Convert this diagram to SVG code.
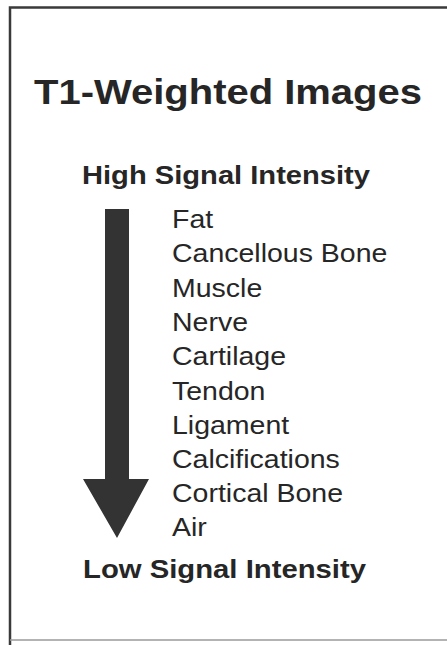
<svg xmlns="http://www.w3.org/2000/svg" width="447" height="645" viewBox="0 0 447 645">
<style>
.t{font-family:"Liberation Sans",Arial,Helvetica,sans-serif;fill:#262626}
.b{font-weight:bold}
.item{font-size:25px}
</style>
<rect x="0" y="0" width="447" height="645" fill="#ffffff"/>
<g id="frame" fill="none">
<path d="M10 645 V7.5 H447" stroke="#3a3a3a" stroke-width="2.5"/>
<path d="M10 640 H447" stroke="#9a9a9a" stroke-width="1.5"/>
</g>
<g id="title"><text class="t b" x="34" y="104" font-size="35" textLength="388" lengthAdjust="spacingAndGlyphs">T1-Weighted Images</text></g>
<g id="high"><text class="t b" x="82" y="183.5" font-size="25.5" textLength="288" lengthAdjust="spacingAndGlyphs">High Signal Intensity</text></g>
<g id="connectors"><polygon id="arrow" points="105,209 129,209 129,479 149,479 117,538 83,479 105,479" fill="#333333"/></g>
<g id="list" class="t item" transform="matrix(1.14 0 0 1 172 0)">
<text x="0" y="228">Fat</text>
<text x="0" y="262">Cancellous Bone</text>
<text x="0" y="297">Muscle</text>
<text x="0" y="331">Nerve</text>
<text x="0" y="365.5">Cartilage</text>
<text x="0" y="400">Tendon</text>
<text x="0" y="434">Ligament</text>
<text x="0" y="468">Calcifications</text>
<text x="0" y="502.5">Cortical Bone</text>
<text x="0" y="536.5">Air</text>
</g>
<g id="low"><text class="t b" x="83" y="578" font-size="25.5" textLength="283" lengthAdjust="spacingAndGlyphs">Low Signal Intensity</text></g>
</svg>
